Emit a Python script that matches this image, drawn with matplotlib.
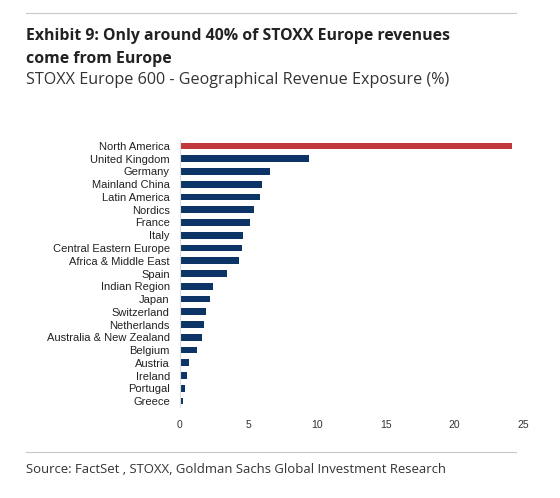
import matplotlib
matplotlib.use("Agg")
import matplotlib.pyplot as plt
from matplotlib.lines import Line2D

categories = ["North America", "United Kingdom", "Germany", "Mainland China", "Latin America",
              "Nordics", "France", "Italy", "Central Eastern Europe", "Africa & Middle East",
              "Spain", "Indian Region", "Japan", "Switzerland", "Netherlands",
              "Australia & New Zealand", "Belgium", "Austria", "Ireland", "Portugal", "Greece"]
values = [24.2, 9.4, 6.6, 6.0, 5.85, 5.45, 5.1, 4.6, 4.55, 4.3, 3.45, 2.45, 2.25, 1.95,
          1.75, 1.65, 1.25, 0.7, 0.55, 0.4, 0.25]
xticks = [0, 5, 10, 15, 20, 25]

W, H = 560, 498
fig = plt.figure(figsize=(W / 100, H / 100), dpi=100)
fig.patch.set_facecolor("white")

navy = "#0C3466"
red = "#C1373A"
colors = [red] + [navy] * (len(values) - 1)

ax_left, ax_right = 179.5, 523
ax_top, ax_bot = 139.6, 407.4
ax = fig.add_axes([ax_left / W, 1 - ax_bot / H, (ax_right - ax_left) / W, (ax_bot - ax_top) / H])
ypos = list(range(len(categories)))
ax.barh(ypos, values, height=0.52, color=colors)
ax.set_ylim(len(categories) - 0.5, -0.5)
ax.set_xlim(0, 25)
ax.set_xticks(xticks)
ax.set_xticklabels([str(t) for t in xticks], fontsize=7.5, family="Liberation Sans", color="#333333")
ax.set_yticks(ypos)
ax.set_yticklabels(categories, fontsize=8, family="Liberation Sans", color="#222222")
ax.tick_params(axis="both", length=0)
ax.tick_params(axis="x", pad=9)
ax.tick_params(axis="y", pad=7)
for s in ["top", "right", "bottom"]:
    ax.spines[s].set_visible(False)
ax.spines["left"].set_color("#dddddd")
ax.spines["left"].set_linewidth(0.8)

# separator lines
for yy in [13, 452]:
    fig.add_artist(Line2D([26 / W, 516 / W], [1 - yy / H, 1 - yy / H], color="#c8c8c8", lw=0.8))

fig.text(26 / W, 1 - 36 / H, "Exhibit 9: Only around 40% of STOXX Europe revenues",
         fontsize=11.4, fontweight="bold", family="Open Sans", color="#222222", va="center", ha="left")
fig.text(26 / W, 1 - 59 / H, "come from Europe",
         fontsize=11.4, fontweight="bold", family="Open Sans", color="#222222", va="center", ha="left")
fig.text(26 / W, 1 - 80 / H, "STOXX Europe 600 - Geographical Revenue Exposure (%)",
         fontsize=11.6, family="Open Sans", color="#333333", va="center", ha="left")
fig.text(26 / W, 1 - 469 / H, "Source: FactSet , STOXX, Goldman Sachs Global Investment Research",
         fontsize=9.45, family="Open Sans", color="#333333", va="center", ha="left")

fig.savefig("out.png", dpi=100)
